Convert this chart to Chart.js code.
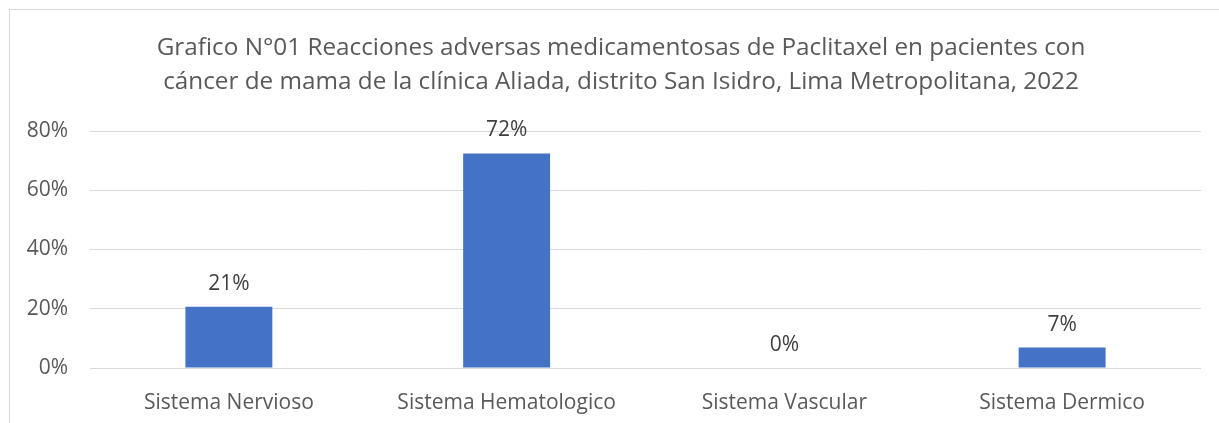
<!DOCTYPE html>
<html>
<head>
<meta charset="utf-8">
<script src="https://cdn.jsdelivr.net/npm/chart.js@4"></script>
<style>
  html, body { margin: 0; padding: 0; background: #ffffff; }
  #frame {
    position: absolute; left: 9px; top: 9px; width: 1210px; height: 414px;
    border-top: 1px solid #d9d9d9; border-left: 1px solid #d9d9d9; box-sizing: border-box;
  }
  #chartBox { position: absolute; left: 0; top: 0; width: 1209px; height: 413px; }
</style>
</head>
<body>
<div id="frame"><div id="chartBox"><canvas id="grafico"></canvas></div></div>
<script>
/* --------------- Datos --------------------- */
const categorias = ["Sistema Nervioso", "Sistema Hematologico", "Sistema Vascular", "Sistema Dermico"];
const porcentajes = [0.207, 0.724, 0, 0.069];
const ticksY = [0, 0.2, 0.4, 0.6, 0.8];
const tituloLineas = [
    "Grafico N°01 Reacciones adversas medicamentosas de Paclitaxel en pacientes con",
    "cáncer de mama de la clínica Aliada, distrito San Isidro, Lima Metropolitana, 2022"
];

const fuente = "'Open Sans', 'Noto Sans', sans-serif";

/* --------------- Titulo (centrado como en el original, algo a la derecha) --------------------- */
const titulo = {
    id: "titulo",
    afterDraw(chart) {
        const ctx = chart.ctx;
        ctx.save();
        ctx.font = "24.3px " + fuente;
        ctx.fillStyle = "#595959";
        ctx.textAlign = "center";
        ctx.textBaseline = "middle";
        tituloLineas.forEach((linea, i) => {
            ctx.fillText(linea, 611, 38 + i * 34);
        });
        ctx.restore();
    }
};

/* --------------- Etiquetas sobre las barras --------------------- */
const etiquetas = {
    id: "etiquetas",
    afterDatasetsDraw(chart) {
        const ctx = chart.ctx;
        const meta = chart.getDatasetMeta(0);
        ctx.save();
        ctx.font = "21px " + fuente;
        ctx.fillStyle = "#404040";
        ctx.textAlign = "center";
        ctx.textBaseline = "middle";
        meta.data.forEach((bar, i) => {
            ctx.fillText(Math.round(porcentajes[i] * 100) + "%", bar.x, bar.y - 23);
        });
        ctx.restore();
    }
};

/* --------------- Grafico --------------------- */
new Chart(document.getElementById("grafico"), {
    type: "bar",
    plugins: [etiquetas, titulo],
    data: {
        labels: categorias,
        datasets: [{
            data: porcentajes,
            backgroundColor: "#4472C4",
            barPercentage: 0.313,
            categoryPercentage: 1
        }]
    },
    options: {
        responsive: true,
        maintainAspectRatio: false,
        animation: false,
        layout: { padding: { left: 0, right: 18, top: 121, bottom: 0 } },
        plugins: {
            legend: { display: false },
            tooltip: { enabled: false },
            title: { display: false }
        },
        scales: {
            x: {
                grid: { display: false },
                border: { display: false },
                ticks: { color: "#595959", font: { family: fuente, size: 21 }, padding: 14 },
                afterFit: (scale) => { scale.height = 55; }
            },
            y: {
                min: 0,
                max: 0.8,
                afterBuildTicks: (scale) => { scale.ticks = ticksY.map(v => ({ value: v })); },
                grid: { color: "#d9d9d9", lineWidth: 1, drawTicks: false },
                border: { display: false },
                ticks: {
                    color: "#595959",
                    font: { family: fuente, size: 21 },
                    padding: 22,
                    callback: (v) => Math.round(v * 100) + "%"
                },
                afterFit: (scale) => { scale.width = 80; }
            }
        }
    }
});
</script>
</body>
</html>
